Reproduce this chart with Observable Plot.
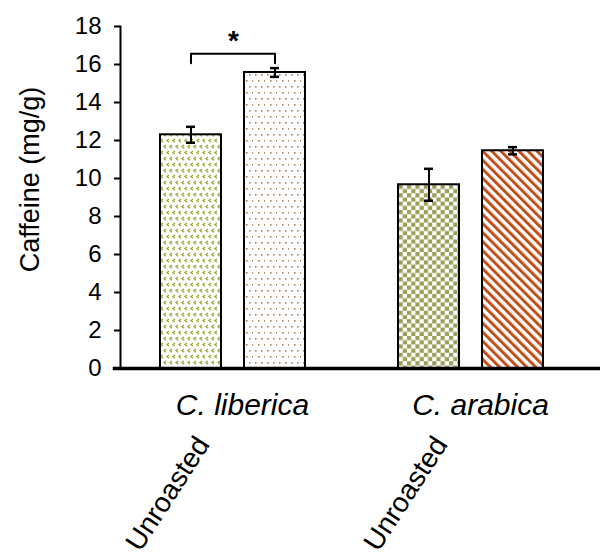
<!DOCTYPE html>
<html>
<head>
<meta charset="utf-8">
<script src="https://cdn.jsdelivr.net/npm/d3@7"></script>
<script src="https://cdn.jsdelivr.net/npm/@observablehq/plot@0.6"></script>
<style>
  html, body { margin: 0; padding: 0; background: #fff; }
</style>
</head>
<body>
<div id="chart"></div>
<script>
// ---- data ----
const speciesOrder = ["C. liberica", "C. arabica"];
const treatmentOrder = ["Unroasted", "Roasted"];
const species = ["C. liberica", "C. liberica", "C. arabica", "C. arabica"];
const treatments = ["Unroasted", "Roasted", "Unroasted", "Roasted"];
const caffeine = [12.3, 15.58, 9.67, 11.46];
const errors = [0.42, 0.23, 0.84, 0.19];
const yTicks = [0, 2, 4, 6, 8, 10, 12, 14, 16, 18];
const yLabel = "Caffeine (mg/g)";
// significance bracket (C. liberica: Unroasted vs Roasted)
const bracketTreatments = ["Unroasted", "Unroasted", "Roasted", "Roasted"];
const bracketValues = [16.07, 16.56, 16.56, 16.07];
const sigSpecies = "C. liberica";
const sigText = "*";
const sigValue = 17.25;

// ---- tables built from arrays ----
const rows = species.map((s, i) => ({
  species: s, treatment: treatments[i], value: caffeine[i], err: errors[i],
  key: s + "|" + treatments[i]
}));
const bracket = bracketTreatments.map((t, i) => ({species: sigSpecies, treatment: t, value: bracketValues[i]}));
const sig = [{species: sigSpecies, value: sigValue, text: sigText}];

const patternIds = ["pLibU", "pLibR", "pAraU", "pAraR"];
const keys = rows.map(d => d.key);

const font = "'Liberation Sans', Arial, sans-serif";

const chart = Plot.plot({
  width: 600,
  height: 558,
  marginLeft: 119,
  marginRight: 15,
  marginTop: 26,
  marginBottom: 190,
  style: {fontFamily: font, background: "#fff", color: "#000"},
  fx: {domain: speciesOrder, paddingInner: 0.05, paddingOuter: 0, axis: null},
  x: {domain: treatmentOrder, paddingInner: 0.269, paddingOuter: 0.468, axis: null},
  y: {domain: [0, 18], axis: null},
  color: {domain: keys, range: patternIds.map(id => `url(#${id})`)},
  marks: [
    Plot.barY(rows, {fx: "species", x: "treatment", y: "value", fill: "key", stroke: "#000", strokeWidth: 2}),
    Plot.ruleX(rows, {fx: "species", x: "treatment", y1: d => d.value - d.err, y2: d => d.value + d.err, stroke: "#000", strokeWidth: 2}),
    Plot.tickY(rows, {fx: "species", x: "treatment", y: d => d.value - d.err, insetLeft: 26, insetRight: 26, stroke: "#000", strokeWidth: 2.5}),
    Plot.tickY(rows, {fx: "species", x: "treatment", y: d => d.value + d.err, insetLeft: 26, insetRight: 26, stroke: "#000", strokeWidth: 2.5}),
    Plot.line(bracket, {fx: "species", x: "treatment", y: "value", stroke: "#000", strokeWidth: 2}),
    Plot.text(sig, {fx: "species", y: "value", text: "text", fontSize: 28, fontWeight: "bold", fill: "#000"}),
    Plot.frame({facet: "super", anchor: "bottom", insetLeft: -6, insetRight: -15, stroke: "#000", strokeWidth: 3.5}),
    Plot.frame({facet: "super", anchor: "left", stroke: "#000", strokeWidth: 2}),
    Plot.axisY(yTicks, {tickSize: 6, tickPadding: 13, fontSize: 24, label: null, stroke: "#000", strokeWidth: 2}),
    Plot.axisFx({anchor: "bottom", tickSize: 0, tickPadding: 25, dx: 9, fontSize: 30, fontStyle: "italic", label: null}),
    Plot.axisX({anchor: "bottom", tickSize: 0, tickRotate: -57, tickPadding: 71, dx: 12, fontSize: 28, label: null,
      tickFormat: d => d === "Unroasted" ? d : ""}),
    Plot.text([yLabel], {facet: "super", frameAnchor: "left", textAnchor: "middle", text: d => d, rotate: -90, dx: -90, dy: -18, fontSize: 27, fill: "#000"})
  ]
});

const svg = chart.tagName.toLowerCase() === "svg" ? chart : chart.querySelector("svg");
const defs = d3.select(svg).insert("defs", ":first-child");

// liberica unroasted: olive chevrons
{
  const p = defs.append("pattern").attr("id", "pLibU").attr("patternUnits", "userSpaceOnUse")
    .attr("width", 12).attr("height", 12);
  p.append("rect").attr("width", 12).attr("height", 12).attr("fill", "#fff");
  let d = "";
  for (const [x, y] of [[1, 1], [7, 1], [4, 7], [10, 7]]) d += `M${x + 2},${y} l-2,1.6 l2,1.6 `;
  p.append("path").attr("d", d).attr("fill", "none").attr("stroke", "#a0a838").attr("stroke-width", 1.4);
}
// liberica roasted: sparse brown dots
{
  const p = defs.append("pattern").attr("id", "pLibR").attr("patternUnits", "userSpaceOnUse")
    .attr("width", 12).attr("height", 12);
  p.append("rect").attr("width", 12).attr("height", 12).attr("fill", "#fff");
  for (const [x, y] of [[2, 2], [8, 2], [5, 8], [11, 8]]) {
    p.append("rect").attr("x", x).attr("y", y).attr("width", 1.6).attr("height", 1.6).attr("fill", "#a9825a");
  }
}
// arabica unroasted: olive checkerboard
{
  const p = defs.append("pattern").attr("id", "pAraU").attr("patternUnits", "userSpaceOnUse")
    .attr("width", 8.4).attr("height", 8.4);
  p.append("rect").attr("width", 8.4).attr("height", 8.4).attr("fill", "#fff");
  p.append("rect").attr("x", 0).attr("y", 0).attr("width", 4.2).attr("height", 4.2).attr("fill", "#9a9f58");
  p.append("rect").attr("x", 4.2).attr("y", 4.2).attr("width", 4.2).attr("height", 4.2).attr("fill", "#9a9f58");
}
// arabica roasted: rust diagonal stripes
{
  const p = defs.append("pattern").attr("id", "pAraR").attr("patternUnits", "userSpaceOnUse")
    .attr("width", 6.4).attr("height", 6.4).attr("patternTransform", "rotate(-45)");
  p.append("rect").attr("width", 6.4).attr("height", 6.4).attr("fill", "#fff");
  p.append("rect").attr("x", 0).attr("y", 0).attr("width", 3).attr("height", 6.4).attr("fill", "#c0501a");
}

document.getElementById("chart").appendChild(chart);
</script>
</body>
</html>
